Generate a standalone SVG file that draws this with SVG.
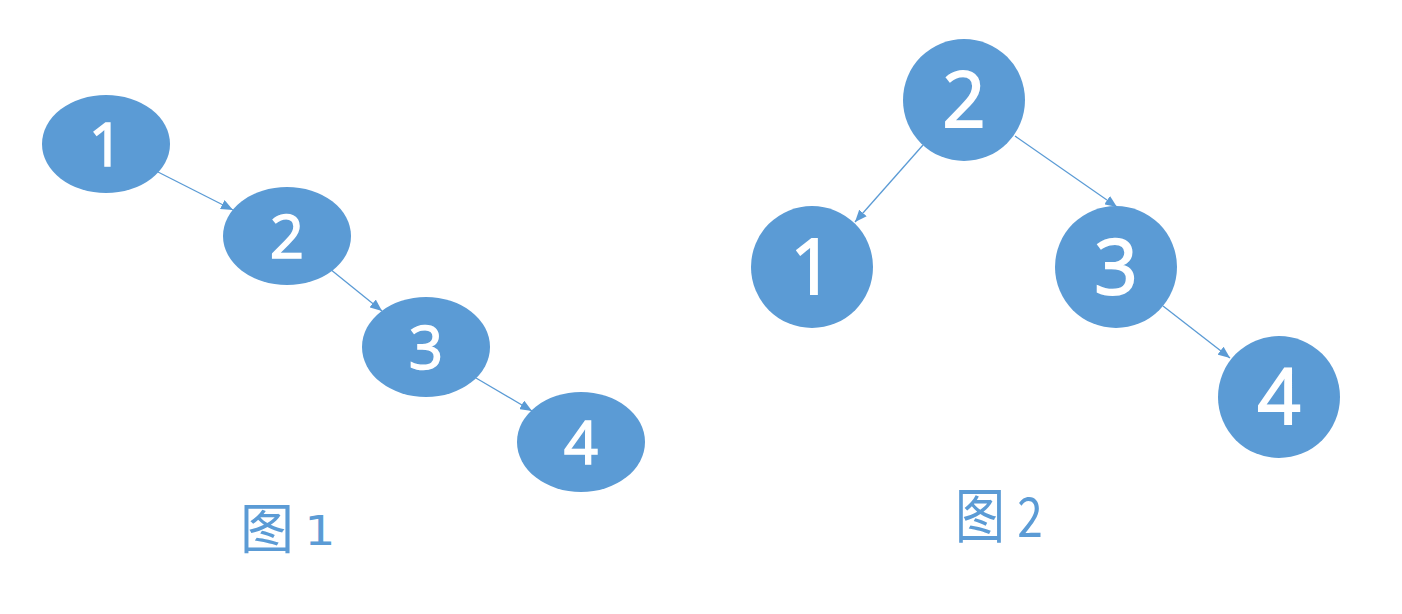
<svg xmlns="http://www.w3.org/2000/svg" width="1402" height="614" viewBox="0 0 1402 614">
<style>
.n{fill:#5B9BD5;}
.t1{fill:#fff;stroke:#fff;stroke-width:1.5;font-family:"Open Sans","Noto Sans",sans-serif;font-size:60px;text-anchor:middle;}
.t2{fill:#fff;stroke:#fff;stroke-width:1.8;font-family:"Open Sans","Noto Sans",sans-serif;font-size:76px;text-anchor:middle;}
.e{stroke:#5B9BD5;stroke-width:1.3;fill:none;marker-end:url(#ah);}
.cap{fill:#5B9BD5;font-family:"Noto Sans CJK SC","Noto Sans",sans-serif;}
.capd{fill:#5B9BD5;font-family:"DejaVu Sans",sans-serif;}
</style>
<defs>
<marker id="ah" viewBox="0 0 12 10" refX="12" refY="5" markerWidth="12" markerHeight="10" markerUnits="userSpaceOnUse" orient="auto">
<path d="M0,0 L12,5 L0,10 Z" fill="#5B9BD5"/>
</marker>
</defs>
<rect width="1402" height="614" fill="#fff"/>
<g id="connectors">
<line class="e" x1="158" y1="172" x2="233" y2="210"/>
<line class="e" x1="330" y1="269" x2="382" y2="311"/>
<line class="e" x1="476" y1="378" x2="532" y2="411"/>
<line class="e" x1="923" y1="145" x2="855" y2="222"/>
<line class="e" x1="1015" y1="136" x2="1117" y2="207"/>
<line class="e" x1="1163" y1="306" x2="1230" y2="358"/>
</g>
<g id="f1n1"><ellipse class="n" cx="106" cy="144" rx="64" ry="49"/><text class="t1" x="106" y="166">1</text></g>
<g id="f1n2"><ellipse class="n" cx="287" cy="236" rx="64" ry="49"/><text class="t1" x="287" y="258">2</text></g>
<g id="f1n3"><ellipse class="n" cx="426" cy="347" rx="64" ry="50"/><text class="t1" x="426" y="369">3</text></g>
<g id="f1n4"><ellipse class="n" cx="581" cy="442" rx="64" ry="50"/><text class="t1" x="581" y="464">4</text></g>
<g id="f2n2"><circle class="n" cx="964" cy="100" r="61"/><text class="t2" x="964" y="127">2</text></g>
<g id="f2n1"><circle class="n" cx="812" cy="267" r="61"/><text class="t2" x="812" y="294">1</text></g>
<g id="f2n3"><circle class="n" cx="1116" cy="267" r="61"/><text class="t2" x="1116" y="294">3</text></g>
<g id="f2n4"><circle class="n" cx="1279" cy="397" r="61"/><text class="t2" x="1279" y="424">4</text></g>
<g id="cap1"><text class="cap" x="240" y="549" font-size="54">图</text><text class="capd" transform="translate(320,545) scale(1.2,1)" font-size="41" text-anchor="middle">1</text></g>
<g id="cap2"><text class="cap" transform="translate(955,538) scale(1,1.2)" font-size="50">图</text><text class="cap" transform="translate(1030,537) scale(1,1.2)" font-size="46" text-anchor="middle">2</text></g>
</svg>
